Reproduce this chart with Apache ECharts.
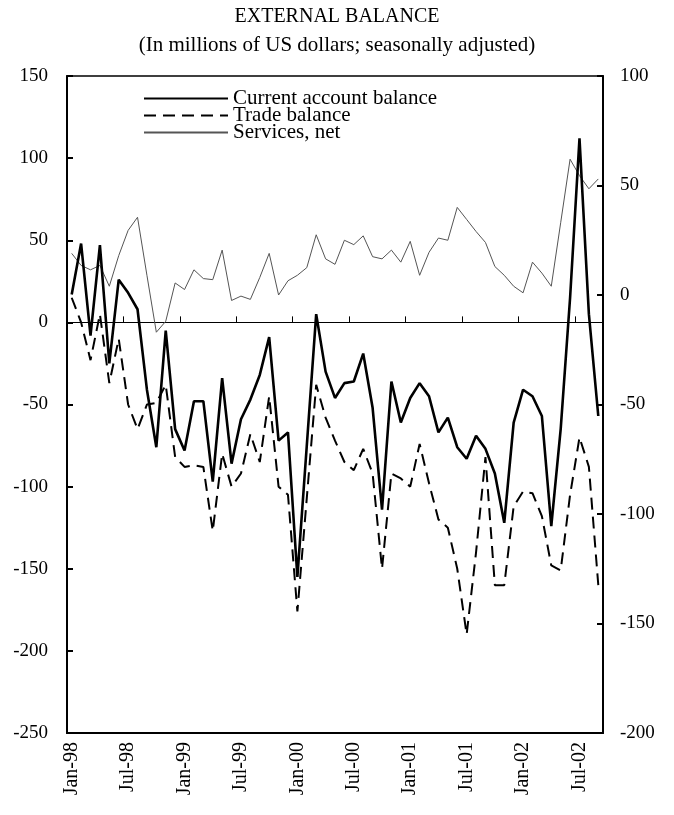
<!DOCTYPE html>
<html>
<head>
<meta charset="utf-8">
<script src="https://cdn.jsdelivr.net/npm/echarts@6/dist/echarts.min.js"></script>
<style>
html,body{margin:0;padding:0;background:#fff;}
#chart{width:674px;height:815px;}
</style>
</head>
<body>
<div id="chart"></div>
<script>
var months = ["Jan-98","Feb-98","Mar-98","Apr-98","May-98","Jun-98","Jul-98","Aug-98","Sep-98","Oct-98","Nov-98","Dec-98",
"Jan-99","Feb-99","Mar-99","Apr-99","May-99","Jun-99","Jul-99","Aug-99","Sep-99","Oct-99","Nov-99","Dec-99",
"Jan-00","Feb-00","Mar-00","Apr-00","May-00","Jun-00","Jul-00","Aug-00","Sep-00","Oct-00","Nov-00","Dec-00",
"Jan-01","Feb-01","Mar-01","Apr-01","May-01","Jun-01","Jul-01","Aug-01","Sep-01","Oct-01","Nov-01","Dec-01",
"Jan-02","Feb-02","Mar-02","Apr-02","May-02","Jun-02","Jul-02","Aug-02","Sep-02"];

var currentAccount = [17, 48, -8, 47, -25, 26, 18, 8, -41, -76, -5, -65, -78, -48, -48, -97, -34, -86, -59, -47, -32, -9, -72, -67,
  -155, -75, 5, -30, -46, -37, -36, -19, -52, -114, -36, -61, -46, -37, -45, -67, -58, -76, -83, -69, -77, -92, -122, -61,
  -41, -45, -57, -124, -65, 15, 112, 5, -57];

var tradeBalance = [15, 0, -23, 5, -37, -10, -50, -65, -50, -49, -38, -82, -88, -87, -88, -127, -80, -100, -92, -68, -85, -45, -100, -105,
  -176, -107, -38, -58, -72, -85, -90, -77, -92, -150, -92, -95, -100, -74, -98, -120, -125, -150, -190, -140, -82, -160, -160, -112,
  -103, -104, -118, -148, -151, -105, -70, -88, -160];

var servicesNet = [19, 13.5, 11.5, 13.5, 4, 18, 29.5, 35.5, 9, -17, -12, 5.5, 2.5, 11.5, 7.5, 7, 20.5, -2.5, -0.5, -2, 8, 19, 0, 6.5,
  9, 12.5, 27.5, 16.5, 14, 25, 23, 27, 17.5, 16.5, 20.5, 15, 24.5, 9, 19.5, 26, 25, 40, 34.5, 29, 24, 13, 9, 4,
  1, 15, 10, 4, 33, 62, 54.5, 48.5, 53];

var seriesNames = ["Current account balance", "Trade balance", "Services, net"];
var titleText = "EXTERNAL BALANCE";
var subtitleText = "(In millions of US dollars; seasonally adjusted)";

var FONT = "Liberation Serif";
var chart = echarts.init(document.getElementById('chart'), null, {renderer: 'canvas'});
var option = {
  animation: false,
  backgroundColor: '#fff',
  title: {
    text: titleText,
    subtext: subtitleText,
    left: 'center',
    top: 2,
    itemGap: 8,
    textStyle: {fontFamily: FONT, fontSize: 20, fontWeight: 'normal', color: '#000'},
    subtextStyle: {fontFamily: FONT, fontSize: 21, color: '#000'}
  },
  legend: {
    orient: 'vertical',
    left: 143,
    top: 88,
    padding: 0,
    itemWidth: 84,
    itemHeight: 10,
    itemGap: -4,
    itemStyle: {opacity: 0},
    textStyle: {fontFamily: FONT, fontSize: 21, color: '#000', lineHeight: 17.5},
    data: seriesNames
  },
  grid: {
    left: 67, right: 71, top: 76, bottom: 82,
    show: true, borderColor: '#000', borderWidth: 1.5, backgroundColor: 'transparent'
  },
  xAxis: [
    {
      type: 'category', data: months, boundaryGap: true, position: 'bottom',
      axisLine: {show: true, onZero: false, lineStyle: {color: '#000', width: 2}},
      axisTick: {show: false},
      axisLabel: {interval: 5, rotate: 90, fontFamily: FONT, fontSize: 20, color: '#000', margin: 9},
      splitLine: {show: false}
    },
    {
      type: 'category', data: months, boundaryGap: true, position: 'bottom',
      axisLine: {show: true, onZero: true, onZeroAxisIndex: 0, lineStyle: {color: '#000', width: 1}},
      axisTick: {show: true, inside: true, interval: 5, length: 6, lineStyle: {color: '#000', width: 1}},
      axisLabel: {show: false},
      splitLine: {show: false}
    }
  ],
  yAxis: [
    {
      type: 'value', min: -250, max: 150, interval: 50, position: 'left',
      axisLine: {show: true, lineStyle: {color: '#000', width: 2}},
      axisTick: {show: true, inside: true, length: 6, lineStyle: {color: '#000', width: 2}},
      axisLabel: {fontFamily: FONT, fontSize: 19, color: '#000', margin: 19},
      splitLine: {show: false}
    },
    {
      type: 'value', min: -200, max: 100, interval: 50, position: 'right',
      axisLine: {show: true, onZero: false, lineStyle: {color: '#000', width: 2}},
      axisTick: {show: true, inside: true, length: 6, lineStyle: {color: '#000', width: 2}},
      axisLabel: {fontFamily: FONT, fontSize: 19, color: '#000', margin: 17},
      splitLine: {show: false}
    }
  ],
  series: [
    {
      name: seriesNames[0], type: 'line', xAxisIndex: 0, yAxisIndex: 0, data: currentAccount,
      symbol: 'none', lineStyle: {color: '#000', width: 2.6}, itemStyle: {color: '#000'}, z: 5
    },
    {
      name: seriesNames[1], type: 'line', xAxisIndex: 0, yAxisIndex: 0, data: tradeBalance,
      symbol: 'none', lineStyle: {color: '#000', width: 2, type: [12, 7]}, itemStyle: {color: '#000'}, z: 4
    },
    {
      name: seriesNames[2], type: 'line', xAxisIndex: 0, yAxisIndex: 1, data: servicesNet,
      symbol: 'none', lineStyle: {color: '#555', width: 1}, itemStyle: {color: '#555'}, z: 3
    }
  ]
};
chart.setOption(option);
</script>
</body>
</html>
